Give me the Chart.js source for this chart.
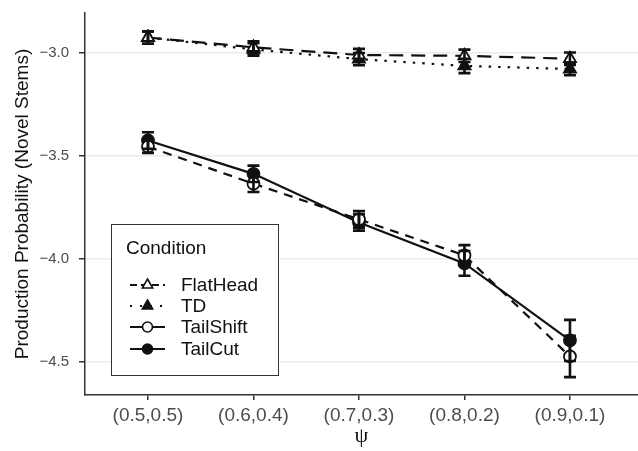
<!DOCTYPE html>
<html>
<head>
<meta charset="utf-8">
<script src="https://cdn.jsdelivr.net/npm/chart.js@4"></script>
<style>
  body { margin: 0; background: #fff; }
  #wrap { width: 638px; height: 451px; position: relative; }
</style>
</head>
<body>
<div id="wrap"><canvas id="myChart"></canvas></div>
<script>
// psi levels on the x axis
const psiLabels = ['(0.5,0.5)', '(0.6,0.4)', '(0.7,0.3)', '(0.8,0.2)', '(0.9,0.1)'];
const yTicks = [-3.0, -3.5, -4.0, -4.5];

// means and error half-widths per condition
const flatHead = [-2.927, -2.975, -3.012, -3.016, -3.03];
const flatHeadErr = [0.03, 0.03, 0.03, 0.03, 0.03];
const td = [-2.927, -2.985, -3.032, -3.065, -3.08];
const tdErr = [0.03, 0.03, 0.03, 0.035, 0.03];
const tailShift = [-3.457, -3.637, -3.81, -3.985, -4.476];
const tailShiftErr = [0.03, 0.04, 0.04, 0.05, 0.1];
const tailCut = [-3.427, -3.589, -3.825, -4.024, -4.398];
const tailCutErr = [0.04, 0.04, 0.04, 0.06, 0.1];

const ink = '#111111';

function pts(values) {
  return values.map((v, i) => ({ x: i + 1, y: v }));
}

function makeSet(label, values, errs, dash, style, fill) {
  return {
    label: label,
    data: pts(values),
    errs: errs,
    borderColor: ink,
    borderWidth: 2.2,
    borderDash: dash,
    pointStyle: style,
    pointRadius: style == 'triangle' ? 7 : 6,
    pointBorderWidth: 1.8,
    pointBorderColor: ink,
    pointBackgroundColor: fill,
    tension: 0
  };
}

const datasets = [
  makeSet('FlatHead', flatHead, flatHeadErr, [14, 8], 'triangle', '#ffffff'),
  makeSet('TD', td, tdErr, [2.5, 7], 'triangle', ink),
  makeSet('TailShift', tailShift, tailShiftErr, [9, 7], 'circle', '#ffffff'),
  makeSet('TailCut', tailCut, tailCutErr, [], 'circle', ink)
];

// error bars, drawn through the scales
const errorBars = {
  id: 'errorBars',
  afterDatasetsDraw(chart) {
    const { ctx, scales: { x, y } } = chart;
    ctx.save();
    ctx.strokeStyle = ink;
    ctx.lineWidth = 2.6;
    chart.data.datasets.forEach(ds => {
      ds.data.forEach((p, i) => {
        const px = x.getPixelForValue(p.x);
        const top = y.getPixelForValue(p.y + ds.errs[i]);
        const bot = y.getPixelForValue(p.y - ds.errs[i]);
        ctx.beginPath();
        ctx.moveTo(px, top); ctx.lineTo(px, bot);
        ctx.moveTo(px - 6, top); ctx.lineTo(px + 6, top);
        ctx.moveTo(px - 6, bot); ctx.lineTo(px + 6, bot);
        ctx.stroke();
      });
    });
    ctx.restore();
  }
};

// boxed legend in the lower left of the panel
const boxLegend = {
  id: 'boxLegend',
  afterDraw(chart) {
    const { ctx } = chart;
    const bx = 111, by = 224, bw = 167, bh = 151;
    ctx.save();
    ctx.fillStyle = '#ffffff';
    ctx.fillRect(bx, by, bw, bh);
    ctx.strokeStyle = '#333333';
    ctx.lineWidth = 1;
    ctx.strokeRect(bx + 0.5, by + 0.5, bw, bh);
    ctx.fillStyle = ink;
    ctx.font = '19px "Liberation Sans", Arial, sans-serif';
    ctx.textBaseline = 'middle';
    ctx.fillText('Condition', 126, 249);
    const rows = [285, 306, 327, 349];
    const keyDash = [[7, 4], [2, 8], [], []];
    chart.data.datasets.forEach((ds, i) => {
      const yy = rows[i];
      ctx.strokeStyle = ink;
      ctx.lineWidth = 2.2;
      ctx.setLineDash(keyDash[i]);
      ctx.beginPath();
      ctx.moveTo(130, yy); ctx.lineTo(165, yy);
      ctx.stroke();
      ctx.setLineDash([]);
      ctx.fillStyle = ds.pointBackgroundColor;
      ctx.strokeStyle = ink;
      ctx.lineWidth = 1.6;
      Chart.helpers.drawPoint(ctx, {
        pointStyle: ds.pointStyle,
        radius: ds.pointRadius - 1,
        borderWidth: 1.6,
        rotation: 0
      }, 147.5, yy);
      ctx.fillStyle = ink;
      ctx.fillText(ds.label, 181, yy + 1);
    });
    ctx.restore();
  }
};

new Chart(document.getElementById('myChart'), {
  type: 'line',
  data: { datasets: datasets },
  options: {
    responsive: true,
    maintainAspectRatio: false,
    animation: false,
    layout: { autoPadding: false, padding: { top: 13, right: 0, left: 0, bottom: 0 } },
    plugins: {
      legend: { display: false },
      tooltip: { enabled: false }
    },
    scales: {
      x: {
        type: 'linear',
        min: 0.403,
        max: 5.645,
        afterBuildTicks: axis => { axis.ticks = psiLabels.map((l, i) => ({ value: i + 1 })); },
        afterFit: axis => { axis.height = 56; axis.paddingLeft = 0; axis.paddingRight = 0; },
        ticks: {
          callback: v => psiLabels[v - 1],
          color: '#4d4d4d',
          font: { family: '"Liberation Sans", Arial, sans-serif', size: 19 },
          padding: 4,
          maxRotation: 0,
          autoSkip: false
        },
        grid: { drawOnChartArea: false, tickColor: '#333333', tickLength: 5, lineWidth: 1.5 },
        border: { color: '#333333', width: 1.5 },
        title: {
          display: true,
          text: 'ψ',
          color: ink,
          font: { family: '"Liberation Serif", serif', size: 22 },
          padding: { top: 0, bottom: 2 }
        }
      },
      y: {
        min: -4.663,
        max: -2.808,
        afterBuildTicks: axis => { axis.ticks = yTicks.map(v => ({ value: v })); },
        afterFit: axis => { axis.width = 85; axis.paddingTop = 0; axis.paddingBottom = 0; },
        ticks: {
          callback: v => v.toFixed(1).replace('-', '\u2212'),
          color: '#4d4d4d',
          font: { family: '"Liberation Sans", Arial, sans-serif', size: 15 },
          padding: 10
        },
        grid: { color: '#ebebeb', lineWidth: 1.5, tickColor: '#333333', tickLength: 6 },
        border: { color: '#333333', width: 1.5 },
        title: {
          display: true,
          text: 'Production Probability (Novel Stems)',
          color: ink,
          font: { family: '"Liberation Sans", Arial, sans-serif', size: 19 },
          padding: { top: 11, bottom: 0 }
        }
      }
    }
  },
  plugins: [errorBars, boxLegend]
});
</script>
</body>
</html>
